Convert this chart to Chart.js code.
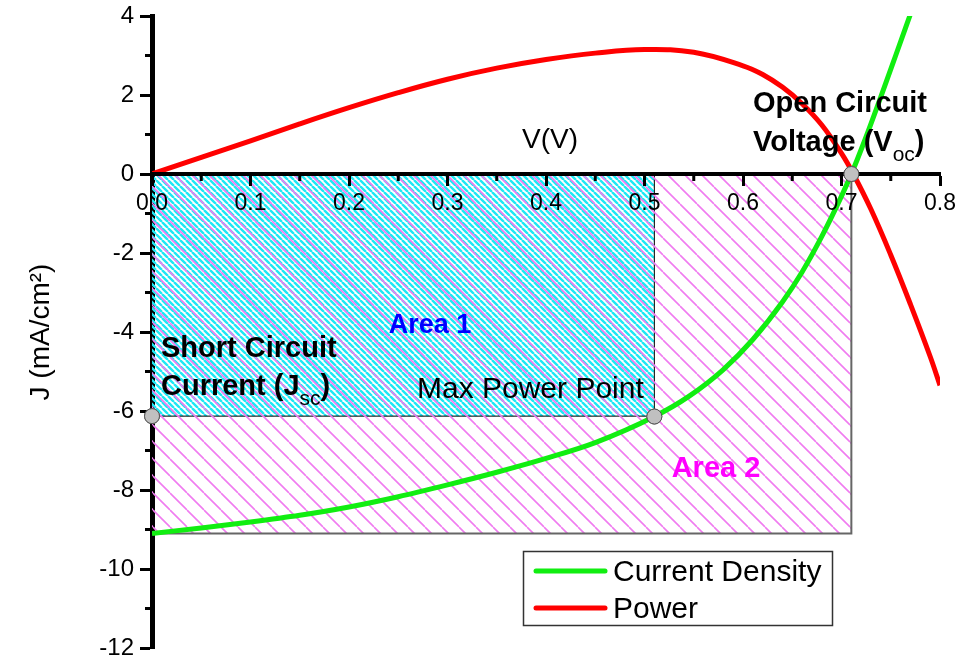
<!DOCTYPE html>
<html>
<head>
<meta charset="utf-8">
<script src="https://cdn.jsdelivr.net/npm/chart.js@4"></script>
<style>
  html, body { margin: 0; padding: 0; background: #fff; }
</style>
</head>
<body>
<canvas id="ivChart" width="962" height="663"></canvas>
<script>
// Current density curve (V, mA/cm2)
const cdVoltage = [0, 0.05, 0.1, 0.15, 0.2, 0.25, 0.3, 0.35, 0.4, 0.45, 0.51, 0.545, 0.58, 0.61, 0.64, 0.66, 0.68, 0.7, 0.71, 0.724, 0.74, 0.755, 0.77];
const cdCurrent = [-9.1, -8.96, -8.81, -8.64, -8.43, -8.17, -7.87, -7.55, -7.2, -6.8, -6.14, -5.63, -4.95, -4.19, -3.24, -2.48, -1.58, -0.56, 0, 0.88, 1.96, 3.0, 4.05];

// Power curve
const powerVoltage = [0, 0.05, 0.1, 0.15, 0.2, 0.25, 0.3, 0.35, 0.4, 0.45, 0.5, 0.55, 0.6, 0.62, 0.64, 0.66, 0.68, 0.7, 0.712, 0.73, 0.75, 0.77, 0.79, 0.8];
const powerValue = [0, 0.42, 0.84, 1.27, 1.68, 2.06, 2.4, 2.68, 2.9, 3.06, 3.15, 3.08, 2.74, 2.52, 2.2, 1.78, 1.24, 0.52, 0, -0.9, -2.05, -3.3, -4.62, -5.35];

// Jsc, max power point, Voc
const keyVoltage = [0, 0.51, 0.71];
const keyCurrent = [-6.13, -6.14, 0];

// hatched rectangles (edge points, filled up to J = 0)
const area1Voltage = [0, 0.51, 0.51];
const area1Current = [-6.13, -6.13, 0];
const area2Voltage = [0, 0.71, 0.71];
const area2Current = [-9.1, -9.1, 0];

const xTickStep = 0.1;
const yTickStep = 2;

function toPoints(xs, ys) {
  return xs.map((x, i) => ({ x: x, y: ys[i] }));
}

const canvas = document.getElementById('ivChart');
const ctx = canvas.getContext('2d');

// diagonal hatch pattern
function hatch(color, step, width) {
  const c = document.createElement('canvas');
  c.width = step;
  c.height = step;
  const g = c.getContext('2d');
  g.strokeStyle = color;
  g.lineWidth = width;
  g.beginPath();
  [-step, 0, step].forEach(function (k) {
    g.moveTo(k, 0);
    g.lineTo(k + step, step);
  });
  g.stroke();
  return ctx.createPattern(c, 'repeat');
}

// draws text pieces one after another (for subscripts)
function richText(c, parts, x, y) {
  parts.forEach(function (p) {
    c.font = p.font;
    c.fillText(p.text, x, y + (p.dy || 0));
    x += c.measureText(p.text).width;
  });
}

const decorPlugin = {
  id: 'decor',
  afterDatasetsDraw(chart) {
    const c = chart.ctx;
    const xs = chart.scales.x, ys = chart.scales.y;
    const y0 = ys.getPixelForValue(0);
    const left = xs.getPixelForValue(0);
    c.save();
    c.strokeStyle = '#000';
    c.lineWidth = 3;
    c.beginPath();
    // minor ticks
    for (let v = 0.05; v < 0.8; v += 0.1) {
      const px = xs.getPixelForValue(v);
      c.moveTo(px, y0);
      c.lineTo(px, y0 + 7);
    }
    for (let v = -11; v < 4; v += 2) {
      const py = ys.getPixelForValue(v);
      c.moveTo(left, py);
      c.lineTo(left - 7, py);
    }
    c.stroke();
    c.restore();
  },
  afterDraw(chart) {
    const c = chart.ctx;
    // key point markers sit on top of the axes
    chart.getDatasetMeta(0).data.forEach(pt => pt.draw(c));

    c.save();
    c.textBaseline = 'alphabetic';
    c.textAlign = 'left';
    c.fillStyle = '#000';

    c.font = '28px "Liberation Sans", Arial, sans-serif';
    c.fillText('V(V)', 522, 148);

    const bold = 'bold 29px "Liberation Sans", Arial, sans-serif';
    const sub = '21px "Liberation Sans", Arial, sans-serif';
    c.font = bold;
    c.fillText('Open Circuit', 753, 112);
    richText(c, [
      { text: 'Voltage (V', font: bold },
      { text: 'oc', font: sub, dy: 10 },
      { text: ')', font: bold }
    ], 753, 151);

    c.font = bold;
    c.fillText('Short Circuit', 161, 357);
    richText(c, [
      { text: 'Current (J', font: bold },
      { text: 'sc', font: sub, dy: 10 },
      { text: ')', font: bold }
    ], 161, 395);

    c.font = '30px "Liberation Sans", Arial, sans-serif';
    c.fillText('Max Power Point', 417, 398);

    c.textAlign = 'center';
    c.font = 'bold 27px "Liberation Sans", Arial, sans-serif';
    c.fillStyle = '#0000ff';
    c.fillText('Area 1', 430, 333);
    c.font = 'bold 29px "Liberation Sans", Arial, sans-serif';
    c.fillStyle = '#ff00ff';
    c.fillText('Area 2', 716, 477);

    // legend
    c.fillStyle = '#fff';
    c.fillRect(523, 551, 310, 75);
    c.strokeStyle = '#333';
    c.lineWidth = 1.5;
    c.strokeRect(523.5, 551.5, 309, 74);
    c.textAlign = 'left';
    c.font = '30px "Liberation Sans", Arial, sans-serif';
    const shown = chart.data.datasets.filter(d => d.inLegend);
    shown.forEach(function (d, i) {
      const ly = 571 + i * 37;
      c.strokeStyle = d.borderColor;
      c.lineWidth = 5;
      c.lineCap = 'round';
      c.beginPath();
      c.moveTo(536, ly);
      c.lineTo(605, ly);
      c.stroke();
      c.fillStyle = '#000';
      c.fillText(d.label, 613, ly + 10);
    });
    c.restore();
  }
};

new Chart(ctx, {
  type: 'line',
  data: {
    datasets: [
      {
        label: 'Key points',
        data: toPoints(keyVoltage, keyCurrent),
        showLine: false,
        pointRadius: 7.5,
        pointBackgroundColor: '#c0c0c0',
        pointBorderColor: '#555',
        pointBorderWidth: 1,
        clip: false,
        order: 0
      },
      {
        label: 'Current Density',
        inLegend: true,
        data: toPoints(cdVoltage, cdCurrent),
        borderColor: '#11ee11',
        borderWidth: 5,
        pointRadius: 0,
        cubicInterpolationMode: 'monotone',
        order: 1
      },
      {
        label: 'Power',
        inLegend: true,
        data: toPoints(powerVoltage, powerValue),
        borderColor: '#ff0000',
        borderWidth: 5,
        pointRadius: 0,
        tension: 0.4,
        order: 2
      },
      {
        label: 'Area 2',
        data: toPoints(area2Voltage, area2Current),
        borderColor: '#666',
        borderWidth: 2,
        pointRadius: 0,
        fill: 'origin',
        backgroundColor: hatch('#f07cf0', 17, 1.6),
        order: 3
      },
      {
        label: 'Area 1',
        data: toPoints(area1Voltage, area1Current),
        borderColor: '#000',
        borderWidth: 1,
        pointRadius: 0,
        fill: 'origin',
        backgroundColor: hatch('#1ee8f4', 6, 2.4),
        order: 4
      }
    ]
  },
  options: {
    responsive: false,
    animation: false,
    devicePixelRatio: 1,
    layout: { padding: { top: 16, right: 20, bottom: 15, left: 0 } },
    plugins: {
      legend: { display: false },
      tooltip: { enabled: false }
    },
    scales: {
      x: {
        type: 'linear',
        position: { y: 0 },
        min: 0,
        max: 0.8,
        border: { color: '#000', width: 4, z: 1 },
        grid: { drawOnChartArea: false, drawTicks: true, tickLength: 10, tickWidth: 3, tickColor: '#000', z: 1 },
        ticks: {
          stepSize: xTickStep,
          padding: 6,
          z: 1,
          color: '#000',
          font: { family: '"Liberation Sans", Arial, sans-serif', size: 23 },
          callback: v => v.toFixed(1)
        }
      },
      y: {
        type: 'linear',
        position: 'left',
        min: -12,
        max: 4,
        afterFit: function (scale) {
          scale.width = 152;
          scale.paddingTop = 0;
          scale.paddingBottom = 0;
        },
        border: { color: '#000', width: 5 },
        grid: { drawOnChartArea: false, drawTicks: true, tickLength: 12, tickWidth: 3, tickColor: '#000' },
        ticks: {
          stepSize: yTickStep,
          padding: 6,
          color: '#000',
          font: { family: '"Liberation Sans", Arial, sans-serif', size: 24 }
        },
        title: {
          display: true,
          text: 'J (mA/cm²)',
          color: '#000',
          padding: { top: 24, bottom: 0 },
          font: { family: '"Liberation Sans", Arial, sans-serif', size: 28 }
        }
      }
    }
  },
  plugins: [decorPlugin]
});
</script>
</body>
</html>
